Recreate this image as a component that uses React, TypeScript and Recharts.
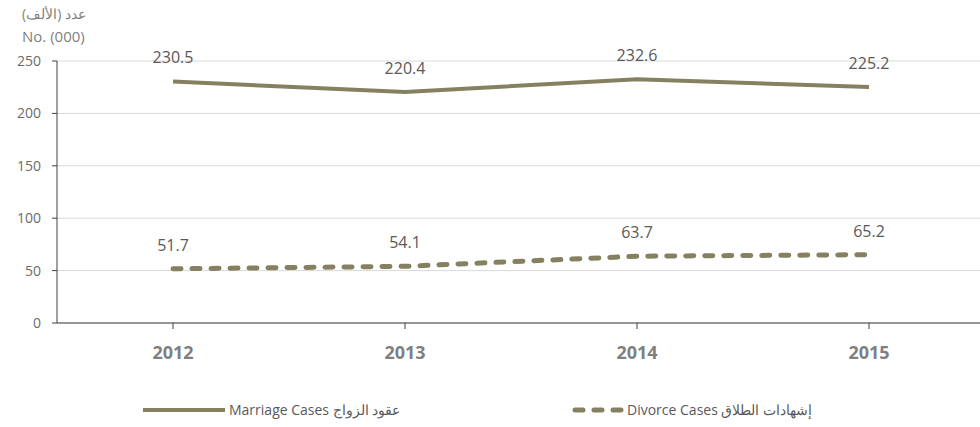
import { LineChart, Line, XAxis, YAxis, CartesianGrid, LabelList } from "recharts";

const years = ["2012", "2013", "2014", "2015"];
const marriageCases = [230.5, 220.4, 232.6, 225.2];
const divorceCases = [51.7, 54.1, 63.7, 65.2];
const yTicks = [0, 50, 100, 150, 200, 250];

const data = years.map((year, i) => ({
  year,
  marriage: marriageCases[i],
  divorce: divorceCases[i],
}));

const OLIVE = "#858060";
const FONT = "'Open Sans', sans-serif";

export default function App() {
  return (
    <div
      style={{
        position: "absolute",
        left: 0,
        top: 0,
        width: 980,
        height: 427,
        overflow: "hidden",
        background: "#fff",
        fontFamily: FONT,
      }}
    >
      <div
        dir="rtl"
        style={{ position: "absolute", left: 26, top: 4, width: 60, fontSize: 14, color: "#7f7f7f", textAlign: "center", whiteSpace: "nowrap" }}
      >
        عدد (الألف)
      </div>
      <div style={{ position: "absolute", left: 22, top: 26, fontSize: 15, color: "#7f7f7f", whiteSpace: "nowrap" }}>
        No. (000)
      </div>

      <LineChart width={1000} height={427} data={data} margin={{ top: 61, right: 15, bottom: 0, left: 0 }}>
        <CartesianGrid vertical={false} stroke="#d9d9d9" />
        <XAxis
          dataKey="year"
          height={104}
          padding={{ left: 116, right: 116 }}
          stroke="#404040"
          tickSize={6}
          tickMargin={17}
          tick={{ fontSize: 18, fontWeight: 700, fill: "#7f7f7f", fontFamily: FONT }}
        />
        <YAxis
          domain={[0, 250]}
          ticks={yTicks}
          width={57}
          stroke="#404040"
          tickSize={5}
          tickMargin={11}
          tick={{ fontSize: 14, fill: "#6b6b6b", fontFamily: FONT }}
        />
        <Line
          dataKey="marriage"
          stroke={OLIVE}
          strokeWidth={4}
          dot={false}
          type="linear"
          isAnimationActive={false}
        >
          <LabelList dataKey="marriage" position="top" offset={18} style={{ fontSize: 16, fill: "#595959", fontFamily: FONT }} />
        </Line>
        <Line
          dataKey="divorce"
          stroke={OLIVE}
          strokeWidth={5}
          strokeDasharray="8 11"
          strokeLinecap="round"
          dot={false}
          type="linear"
          isAnimationActive={false}
        >
          <LabelList dataKey="divorce" position="top" offset={18} style={{ fontSize: 16, fill: "#595959", fontFamily: FONT }} />
        </Line>
      </LineChart>

      <svg style={{ position: "absolute", left: 0, top: 400 }} width={980} height={20}>
        <line x1={143} y1={10} x2={225} y2={10} stroke={OLIVE} strokeWidth={4} />
        <line x1={575} y1={10} x2={621} y2={10} stroke={OLIVE} strokeWidth={5} strokeDasharray="8 11" strokeLinecap="round" />
      </svg>
      <div style={{ position: "absolute", left: 229, top: 400, fontSize: 14, color: "#595959", whiteSpace: "nowrap" }}>
        Marriage Cases عقود الزواج
      </div>
      <div style={{ position: "absolute", left: 627, top: 400, fontSize: 14, color: "#595959", whiteSpace: "nowrap" }}>
        Divorce Cases إشهادات الطلاق
      </div>
    </div>
  );
}
